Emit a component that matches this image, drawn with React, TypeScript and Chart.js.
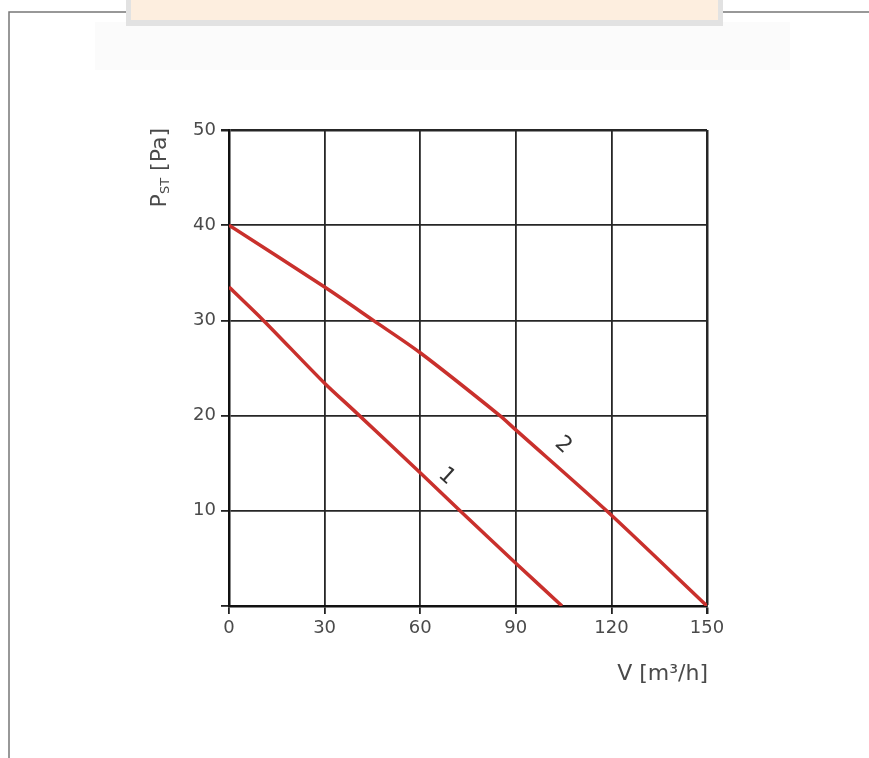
import React, { useEffect, useRef } from "react";
import { Chart, registerables } from "chart.js";

Chart.register(...registerables);

// Curve 1
const V1 = [0, 10.8, 30, 39, 60, 72.5, 90, 104.5];
const P1 = [33.5, 30, 23.4, 20.6, 14, 10, 4.5, 0];
// Curve 2
const V2 = [0, 30, 45.3, 60, 85, 90, 118.5, 150];
const P2 = [40, 33.5, 30, 26.6, 20, 18.5, 10, 0];

const X_TICKS = [0, 30, 60, 90, 120, 150];
const Y_TICKS = [0, 10, 20, 30, 40, 50];

// curve labels (text, x, y)
const CURVE_LABELS = ["1", "2"];
const LABEL_X = [68.3, 104.8];
const LABEL_Y = [13.6, 16.9];

const FONT = "'DejaVu Sans', Verdana, sans-serif";
const RED = "#c9302c";
const TEXT = "#4a4a4a";

const framePlugin = {
  id: "frame",
  beforeDraw(chart: any) {
    const ctx = chart.ctx;
    ctx.save();
    ctx.fillStyle = "#ffffff";
    ctx.fillRect(0, 0, chart.width, chart.height);
    // faint box
    ctx.fillStyle = "#fbfbfb";
    ctx.fillRect(95, 22, 695, 48);
    // frame lines
    ctx.strokeStyle = "#777";
    ctx.lineWidth = 1.5;
    ctx.beginPath();
    ctx.moveTo(9, 758);
    ctx.lineTo(9, 12);
    ctx.lineTo(869, 12);
    ctx.stroke();
    // watermark banner
    ctx.fillStyle = "#e2e2e2";
    ctx.fillRect(126, 0, 597, 26);
    ctx.fillStyle = "#fdeedf";
    ctx.fillRect(131, 0, 587, 20);
    ctx.restore();
  },
  afterDraw(chart: any) {
    const ctx = chart.ctx;
    const xs = chart.scales.x;
    const ys = chart.scales.y;
    const ca = chart.chartArea;
    ctx.save();
    ctx.fillStyle = TEXT;
    // y title with subscript
    ctx.translate(ca.left - 69, ca.top - 2);
    ctx.rotate(-Math.PI / 2);
    ctx.textBaseline = "middle";
    ctx.textAlign = "right";
    ctx.font = `22px ${FONT}`;
    const rest = " [Pa]";
    const restW = ctx.measureText(rest).width;
    ctx.fillText(rest, 0, 0);
    ctx.font = `13px ${FONT}`;
    const sub = "ST";
    const subW = ctx.measureText(sub).width;
    ctx.fillText(sub, -restW, 6);
    ctx.font = `22px ${FONT}`;
    ctx.fillText("P", -restW - subW, 0);
    ctx.restore();

    ctx.save();
    ctx.fillStyle = TEXT;
    ctx.font = `22px ${FONT}`;
    ctx.textAlign = "right";
    ctx.textBaseline = "middle";
    ctx.fillText("V [m³/h]", ca.right + 1, 674);
    ctx.restore();

    // curve labels
    ctx.save();
    ctx.fillStyle = "#333";
    ctx.font = `22px ${FONT}`;
    ctx.textAlign = "center";
    ctx.textBaseline = "middle";
    for (let i = 0; i < CURVE_LABELS.length; i++) {
      ctx.save();
      ctx.translate(xs.getPixelForValue(LABEL_X[i]), ys.getPixelForValue(LABEL_Y[i]));
      ctx.rotate((42 * Math.PI) / 180);
      ctx.fillText(CURVE_LABELS[i], 0, 0);
      ctx.restore();
    }
    ctx.restore();
  },
};

export default function App() {
  const ref = useRef<HTMLCanvasElement>(null);
  useEffect(() => {
    if (!ref.current) return;
    const chart = new Chart(ref.current, {
      type: "line",
      data: {
        datasets: [
          {
            label: "1",
            data: V1.map((v, i) => ({ x: v, y: P1[i] })),
            borderColor: RED,
            borderWidth: 3.5,
            pointRadius: 0,
            tension: 0.3,
            fill: false,
          },
          {
            label: "2",
            data: V2.map((v, i) => ({ x: v, y: P2[i] })),
            borderColor: RED,
            borderWidth: 3.5,
            pointRadius: 0,
            tension: 0.3,
            fill: false,
          },
        ],
      },
      options: {
        animation: false,
        responsive: false,
        layout: { padding: { left: 169, right: 162, top: 130, bottom: 72 } },
        plugins: { legend: { display: false }, tooltip: { enabled: false } },
        scales: {
          x: {
            type: "linear",
            min: 0,
            max: 150,
            afterBuildTicks: (s: any) => {
              s.ticks = X_TICKS.map((v) => ({ value: v }));
            },
            afterFit: (s: any) => {
              s.height = 80;
            },
            ticks: {
              color: TEXT,
              font: { family: FONT, size: 18 },
              padding: 4,
              maxRotation: 0,
              autoSkip: false,
            },
            grid: {
              color: "#262626",
              lineWidth: (c: any) => (c.index === X_TICKS.length - 1 ? 2.5 : 1.8),
              tickLength: 8,
              tickColor: "#222",
            },
            border: { display: true, color: "#111", width: 2.5 },
          },
          y: {
            type: "linear",
            min: 0,
            max: 50,
            afterBuildTicks: (s: any) => {
              s.ticks = Y_TICKS.map((v) => ({ value: v }));
            },
            afterFit: (s: any) => {
              s.width = 60;
            },
            ticks: {
              color: TEXT,
              font: { family: FONT, size: 18 },
              padding: 5,
              autoSkip: false,
              callback: (v: any) => (v === 0 ? "" : String(v)),
            },
            grid: {
              color: "#262626",
              lineWidth: (c: any) => (c.index === Y_TICKS.length - 1 ? 2.5 : 1.8),
              tickLength: 8,
              tickColor: "#222",
            },
            border: { display: true, color: "#111", width: 2.5 },
          },
        },
      },
      plugins: [framePlugin],
    } as any);
    return () => chart.destroy();
  }, []);
  return (
    <div style={{ position: "absolute", left: 0, top: 0, width: 869, height: 758 }}>
      <canvas ref={ref} width={869} height={758} />
    </div>
  );
}
